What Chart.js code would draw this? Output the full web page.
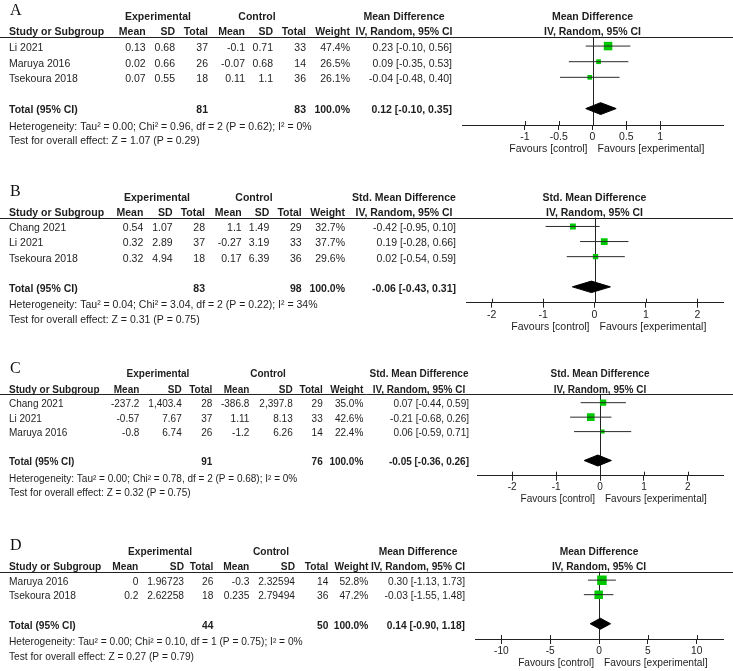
<!DOCTYPE html>
<html>
<head>
<meta charset="utf-8">
<script src="https://cdn.jsdelivr.net/npm/chart.js@4.4.1/dist/chart.umd.min.js"></script>
<style>
body { margin: 0; background: #fff; }
#wrap { position: relative; width: 733px; height: 671px; }
canvas { position: absolute; left: 0; }
</style>
</head>
<body>
<div id="wrap">
  <canvas id="cA" width="733" height="168" style="top:0px"></canvas>
  <canvas id="cB" width="733" height="167" style="top:168px"></canvas>
  <canvas id="cC" width="733" height="170" style="top:335px"></canvas>
  <canvas id="cD" width="733" height="166" style="top:505px"></canvas>
</div>
<script>
// ---- panel A ----
const studiesA = ['Li 2021', 'Maruya 2016', 'Tsekoura 2018']
const expMeanA = ['0.13', '0.02', '0.07']
const expSdA = ['0.68', '0.66', '0.55']
const expNA = ['37', '26', '18']
const ctlMeanA = ['-0.1', '-0.07', '0.11']
const ctlSdA = ['0.71', '0.68', '1.1']
const ctlNA = ['33', '14', '36']
const weightA = [47.4, 26.5, 26.1]
const estA = [0.23, 0.09, -0.04]
const loA = [-0.10, -0.35, -0.48]
const hiA = [0.56, 0.53, 0.40]
const totalA = { expN: '81', ctlN: '83', est: 0.12, lo: -0.10, hi: 0.35 }
const hetA = 'Heterogeneity: Tau² = 0.00; Chi² = 0.96, df = 2 (P = 0.62); I² = 0%'
const testA = 'Test for overall effect: Z = 1.07 (P = 0.29)'
const ticksA = [-1, -0.5, 0, 0.5, 1]
const rangeA = 1.93

// ---- panel B ----
const studiesB = ['Chang 2021', 'Li 2021', 'Tsekoura 2018']
const expMeanB = ['0.54', '0.32', '0.32']
const expSdB = ['1.07', '2.89', '4.94']
const expNB = ['28', '37', '18']
const ctlMeanB = ['1.1', '-0.27', '0.17']
const ctlSdB = ['1.49', '3.19', '6.39']
const ctlNB = ['29', '33', '36']
const weightB = [32.7, 37.7, 29.6]
const estB = [-0.42, 0.19, 0.02]
const loB = [-0.95, -0.28, -0.54]
const hiB = [0.10, 0.66, 0.59]
const totalB = { expN: '83', ctlN: '98', est: -0.06, lo: -0.43, hi: 0.31 }
const hetB = 'Heterogeneity: Tau² = 0.04; Chi² = 3.04, df = 2 (P = 0.22); I² = 34%'
const testB = 'Test for overall effect: Z = 0.31 (P = 0.75)'
const ticksB = [-2, -1, 0, 1, 2]
const rangeB = 2.5

// ---- panel C ----
const studiesC = ['Chang 2021', 'Li 2021', 'Maruya 2016']
const expMeanC = ['-237.2', '-0.57', '-0.8']
const expSdC = ['1,403.4', '7.67', '6.74']
const expNC = ['28', '37', '26']
const ctlMeanC = ['-386.8', '1.11', '-1.2']
const ctlSdC = ['2,397.8', '8.13', '6.26']
const ctlNC = ['29', '33', '14']
const weightC = [35.0, 42.6, 22.4]
const estC = [0.07, -0.21, 0.06]
const loC = [-0.44, -0.68, -0.59]
const hiC = [0.59, 0.26, 0.71]
const totalC = { expN: '91', ctlN: '76', est: -0.05, lo: -0.36, hi: 0.26 }
const hetC = 'Heterogeneity: Tau² = 0.00; Chi² = 0.78, df = 2 (P = 0.68); I² = 0%'
const testC = 'Test for overall effect: Z = 0.32 (P = 0.75)'
const ticksC = [-2, -1, 0, 1, 2]
const rangeC = 2.8

// ---- panel D ----
const studiesD = ['Maruya 2016', 'Tsekoura 2018']
const expMeanD = ['0', '0.2']
const expSdD = ['1.96723', '2.62258']
const expND = ['26', '18']
const ctlMeanD = ['-0.3', '0.235']
const ctlSdD = ['2.32594', '2.79494']
const ctlND = ['14', '36']
const weightD = [52.8, 47.2]
const estD = [0.30, -0.03]
const loD = [-1.13, -1.55]
const hiD = [1.73, 1.48]
const totalD = { expN: '44', ctlN: '50', est: 0.14, lo: -0.90, hi: 1.18 }
const hetD = 'Heterogeneity: Tau² = 0.00; Chi² = 0.10, df = 1 (P = 0.75); I² = 0%'
const testD = 'Test for overall effect: Z = 0.27 (P = 0.79)'
const ticksD = [-10, -5, 0, 5, 10]
const rangeD = 12.7

const panels = [
  { id: 'cA', letter: 'A', measure: 'Mean Difference', studies: studiesA, cells: [expMeanA, expSdA, expNA, ctlMeanA, ctlSdA, ctlNA],
    weight: weightA, est: estA, lo: loA, hi: hiA, total: totalA, het: hetA, test: testA, ticks: ticksA, range: rangeA,
    top: 37, bottom: 125, left: 462, fs: 10.5, cols: [145.7, 175, 208, 245, 273, 306, 350, 452], expC: 158, ctlC: 257, effC: 404 },
  { id: 'cB', letter: 'B', measure: 'Std. Mean Difference', studies: studiesB, cells: [expMeanB, expSdB, expNB, ctlMeanB, ctlSdB, ctlNB],
    weight: weightB, est: estB, lo: loB, hi: hiB, total: totalB, het: hetB, test: testB, ticks: ticksB, range: rangeB,
    top: 49.7, bottom: 134.7, left: 466, fs: 10.5, cols: [143.3, 172.7, 205, 241.7, 269.3, 301.7, 345, 456], expC: 157, ctlC: 254, effC: 404 },
  { id: 'cC', letter: 'C', measure: 'Std. Mean Difference', studies: studiesC, cells: [expMeanC, expSdC, expNC, ctlMeanC, ctlSdC, ctlNC],
    weight: weightC, est: estC, lo: loC, hi: hiC, total: totalC, het: hetC, test: testC, ticks: ticksC, range: rangeC,
    top: 59.3, bottom: 140.7, left: 477, fs: 10, cols: [139.3, 181.7, 212.3, 249.3, 292.7, 322.7, 363.3, 469], expC: 158, ctlC: 268, effC: 419 },
  { id: 'cD', letter: 'D', measure: 'Mean Difference', studies: studiesD, cells: [expMeanD, expSdD, expND, ctlMeanD, ctlSdD, ctlND],
    weight: weightD, est: estD, lo: loD, hi: hiD, total: totalD, het: hetD, test: testD, ticks: ticksD, range: rangeD,
    top: 66.7, bottom: 134, left: 475, fs: 10.2, cols: [138.3, 184, 213.3, 249.3, 295, 328.3, 368.3, 465], expC: 160, ctlC: 271, effC: 418 }
]

const FONT = '"Liberation Sans", Arial, sans-serif'
const INK = '#1e1e1e'

function txt(ctx, s, x, y, align, bold, size) {
  ctx.font = (bold ? 'bold ' : '') + size + 'px ' + FONT
  ctx.textAlign = align
  ctx.textBaseline = 'middle'
  ctx.fillStyle = INK
  ctx.fillText(s, x, y)
}

function ci(e, l, h) {
  return e.toFixed(2) + ' [' + l.toFixed(2) + ', ' + h.toFixed(2) + ']'
}

const forestTable = {
  id: 'forestTable',
  beforeDatasetsDraw(chart, args, p) {
    const { ctx, chartArea: a, scales } = chart
    const x0 = Math.round(scales.x.getPixelForValue(0)) + 0.5
    ctx.save()
    ctx.strokeStyle = '#222'
    ctx.lineWidth = 1
    ctx.beginPath()
    ctx.moveTo(0, Math.round(a.top) + 0.5)
    ctx.lineTo(chart.width, Math.round(a.top) + 0.5)
    ctx.moveTo(x0, a.top)
    ctx.lineTo(x0, a.bottom)
    p.ticks.forEach(v => {
      const px = Math.round(scales.x.getPixelForValue(v)) + 0.5
      ctx.moveTo(px, a.bottom - 4)
      ctx.lineTo(px, a.bottom)
    })
    ctx.stroke()
    ctx.restore()
  },
  afterDraw(chart, args, p) {
    const { ctx, chartArea: a, scales } = chart
    const y = scales.y
    const x0 = scales.x.getPixelForValue(0)
    const fs = p.fs
    const h2 = a.top - 4.5
    const h1 = a.top - 20
    ctx.save()
    // panel letter
    ctx.font = '16px "Liberation Serif", "Times New Roman", serif'
    ctx.textAlign = 'left'
    ctx.textBaseline = 'middle'
    ctx.fillStyle = '#111'
    ctx.fillText(p.letter, 10, a.top - 26)
    // headers
    txt(ctx, 'Experimental', p.expC, h1, 'center', true, fs)
    txt(ctx, 'Control', p.ctlC, h1, 'center', true, fs)
    txt(ctx, p.measure, p.effC, h1, 'center', true, fs)
    txt(ctx, p.measure, x0, h1, 'center', true, fs)
    txt(ctx, 'Study or Subgroup', 9, h2, 'left', true, fs)
    const heads = ['Mean', 'SD', 'Total', 'Mean', 'SD', 'Total', 'Weight']
    heads.forEach((s, k) => txt(ctx, s, p.cols[k], h2, 'right', true, fs))
    txt(ctx, 'IV, Random, 95% CI', p.effC, h2, 'center', true, fs)
    txt(ctx, 'IV, Random, 95% CI', x0, h2, 'center', true, fs)
    // study rows
    p.studies.forEach((s, i) => {
      const ry = y.getPixelForValue(i) + 2
      txt(ctx, s, 9, ry, 'left', false, fs)
      p.cells.forEach((col, k) => txt(ctx, col[i], p.cols[k], ry, 'right', false, fs))
      txt(ctx, p.weight[i].toFixed(1) + '%', p.cols[6], ry, 'right', false, fs)
      txt(ctx, ci(p.est[i], p.lo[i], p.hi[i]), p.cols[7], ry, 'right', false, fs)
    })
    // total row
    const t = p.total
    const ty = y.getPixelForValue(p.studies.length + 1) + 2
    txt(ctx, 'Total (95% CI)', 9, ty, 'left', true, fs)
    txt(ctx, t.expN, p.cols[2], ty, 'right', true, fs)
    txt(ctx, t.ctlN, p.cols[5], ty, 'right', true, fs)
    txt(ctx, '100.0%', p.cols[6], ty, 'right', true, fs)
    txt(ctx, ci(t.est, t.lo, t.hi), p.cols[7], ty, 'right', true, fs)
    txt(ctx, p.het, 9, ty + 16.5, 'left', false, fs)
    txt(ctx, p.test, 9, ty + 31, 'left', false, fs)
    // favours
    txt(ctx, 'Favours [control]', x0 - 5, a.bottom + 24, 'right', false, fs)
    txt(ctx, 'Favours [experimental]', x0 + 5, a.bottom + 24, 'left', false, fs)
    ctx.restore()
  }
}

panels.forEach(p => {
  const canvas = document.getElementById(p.id)
  const H = canvas.height
  const n = p.studies.length
  const tRow = n + 1
  const datasets = []
  p.studies.forEach((s, i) => {
    datasets.push({
      data: [{ x: p.lo[i], y: i }, { x: p.hi[i], y: i }],
      showLine: true, borderColor: '#2a2a2a', borderWidth: 1, pointRadius: 0
    })
  })
  datasets.push({
    data: p.est.map((e, i) => ({ x: e, y: i })),
    pointStyle: 'rect',
    pointRadius: p.weight.map(w => (0.18 * w) / Math.SQRT2),
    backgroundColor: '#00c800', borderWidth: 0
  })
  const t = p.total
  datasets.push({
    data: [
      { x: t.lo, y: tRow }, { x: t.est, y: tRow - 0.38 }, { x: t.hi, y: tRow },
      { x: t.est, y: tRow + 0.38 }, { x: t.lo, y: tRow }
    ],
    showLine: true, fill: 'shape', backgroundColor: '#000', borderColor: '#000',
    borderWidth: 1, pointRadius: 0, tension: 0
  })
  new Chart(canvas, {
    type: 'scatter',
    data: { datasets: datasets },
    options: {
      responsive: false,
      animation: false,
      events: [],
      layout: { padding: { top: p.top, left: p.left, right: 10, bottom: 0 } },
      plugins: { legend: { display: false }, tooltip: { enabled: false }, forestTable: p },
      scales: {
        x: {
          type: 'linear', min: -p.range, max: p.range,
          afterBuildTicks: sc => { sc.ticks = p.ticks.map(v => ({ value: v })) },
          afterFit: sc => { sc.height = H - p.bottom },
          border: { color: '#222', width: 1 },
          grid: { drawOnChartArea: false, drawTicks: true, tickLength: 5, color: '#222' },
          ticks: { padding: 1, color: '#222', font: { family: FONT, size: p.fs }, callback: v => String(v) }
        },
        y: { type: 'linear', display: false, reverse: true, min: -0.58, max: tRow + 1.05 }
      }
    },
    plugins: [forestTable]
  })
})
</script>
</body>
</html>
